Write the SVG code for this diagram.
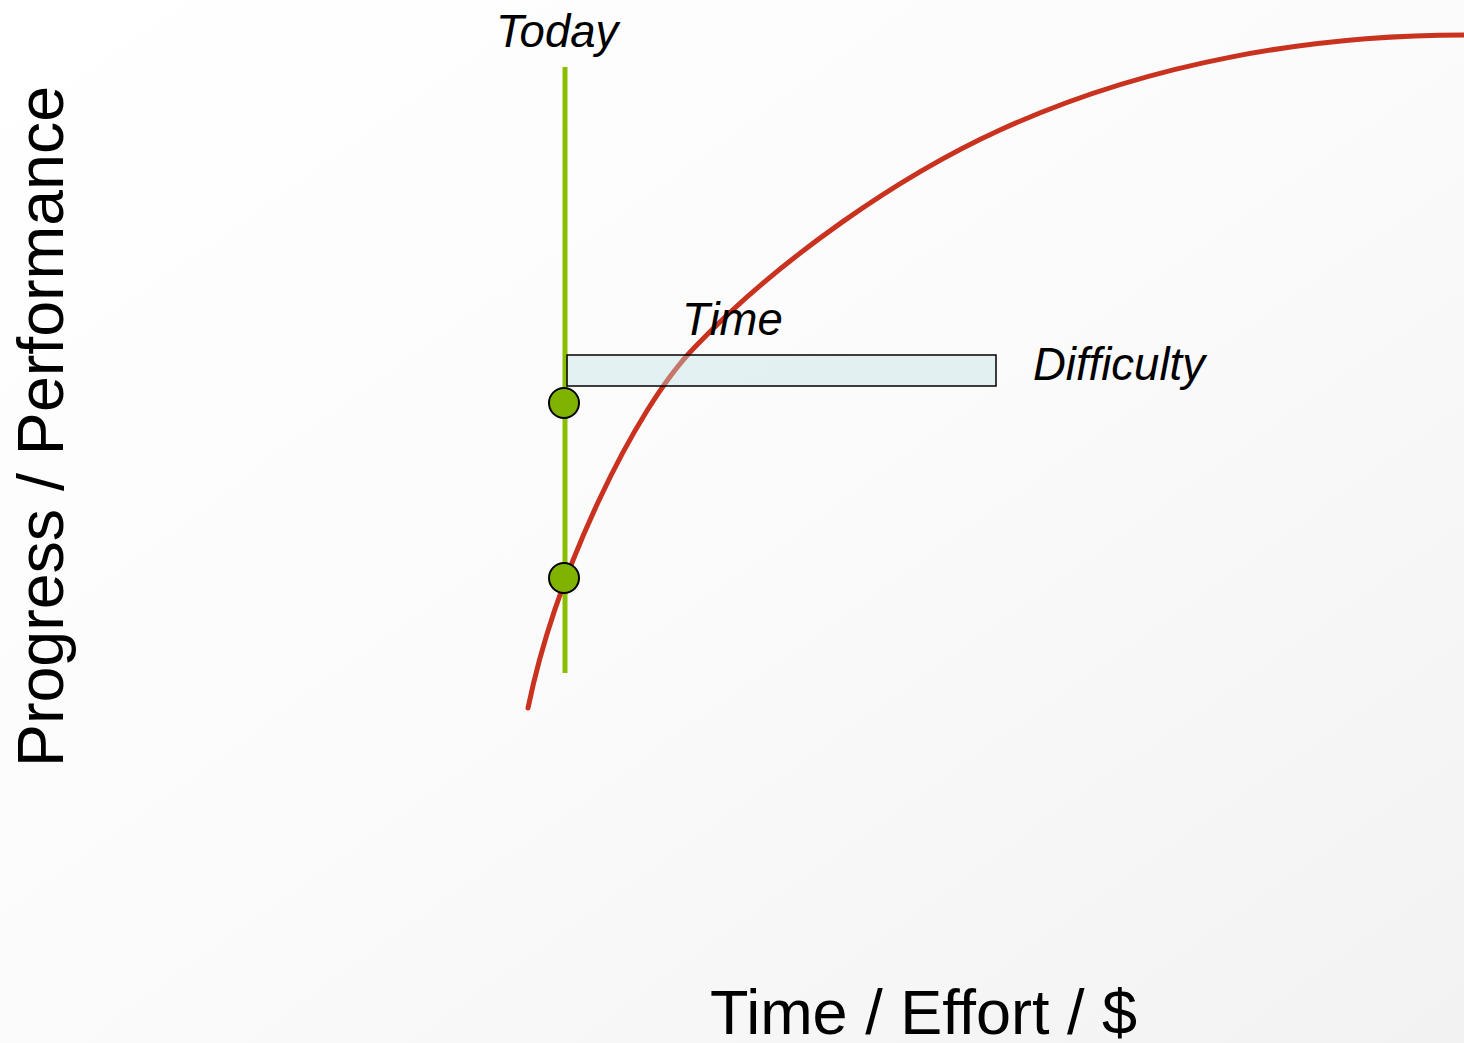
<svg xmlns="http://www.w3.org/2000/svg" width="1464" height="1043" viewBox="0 0 1464 1043">
  <defs>
    <linearGradient id="bg" x1="0" y1="0" x2="1" y2="1">
      <stop offset="0" stop-color="#ffffff"/>
      <stop offset="0.5" stop-color="#fbfbfb"/>
      <stop offset="1" stop-color="#f2f2f2"/>
    </linearGradient>
  </defs>
  <style>
    .lbl { font-family: "Liberation Sans", Arial, sans-serif; fill: #000; }
    .it { font-style: italic; font-size: 45.5px; }
    .axis { font-size: 63px; }
    .dot { fill: #80b300; stroke: #000; stroke-width: 2; }
  </style>
  <rect x="0" y="0" width="1464" height="1043" fill="url(#bg)"/>

  <g id="today-line">
    <line x1="565" y1="67" x2="565" y2="673" stroke="#8bbd00" stroke-width="5"/>
  </g>

  <g id="curve">
    <path d="M528,708 C556,572 634,410 694,348 C780,258 900,175.6 1000,130 C1150,61.6 1314,35 1464,35" fill="none" stroke="#c8321e" stroke-width="5" stroke-linecap="round"/>
  </g>

  <g id="difficulty-bar">
    <rect x="567" y="355" width="429" height="31" fill="#bee1e4" fill-opacity="0.4" stroke="#000" stroke-width="1.5"/>
  </g>

  <g id="dot-upper">
    <circle class="dot" cx="564" cy="403" r="15"/>
  </g>
  <g id="dot-lower">
    <circle class="dot" cx="564" cy="578" r="15"/>
  </g>

  <g id="labels">
    <text class="lbl it" x="496" y="47">Today</text>
    <text class="lbl it" x="682" y="335">Time</text>
    <text class="lbl it" x="1033" y="380">Difficulty</text>
    <text class="lbl axis" x="710" y="1034">Time / Effort / $</text>
    <text class="lbl axis" transform="translate(63,767) rotate(-90)" x="0" y="0" style="font-size:64.5px">Progress / Performance</text>
  </g>
</svg>
